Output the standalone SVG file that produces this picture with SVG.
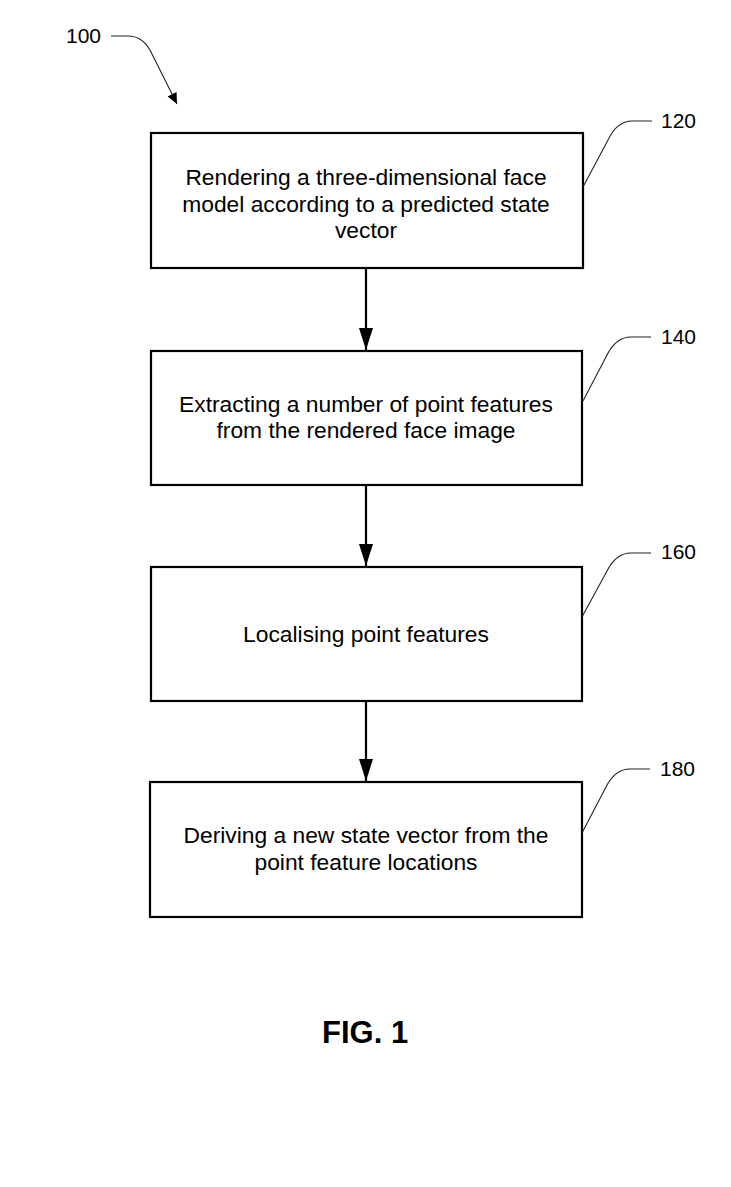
<svg xmlns="http://www.w3.org/2000/svg" width="731" height="1187" viewBox="0 0 731 1187">
<style>
.box{fill:#fff;stroke:#000;stroke-width:2.2}
.t{font-family:"Liberation Sans",Arial,sans-serif;font-size:22.8px;fill:#000;text-anchor:middle}
.lbl{font-family:"Liberation Sans",Arial,sans-serif;font-size:21px;fill:#000}
.lead{fill:none;stroke:#222;stroke-width:1.1}
.conn{stroke:#000;stroke-width:2.2;fill:none}
.fig{font-family:"Liberation Sans",Arial,sans-serif;font-size:31px;font-weight:bold;fill:#000}
</style>
<defs>
<marker id="ah" markerUnits="userSpaceOnUse" markerWidth="22" markerHeight="14" refX="22" refY="7" orient="auto" viewBox="0 0 22 14"><path d="M0,0 L22,7 L0,14 Z" fill="#000"/></marker>
<marker id="sm" markerUnits="userSpaceOnUse" markerWidth="12" markerHeight="12" refX="11" refY="5" orient="auto" viewBox="0 0 12 10"><path d="M0,0 L11,5 L0,10 Z" fill="#000"/></marker>
</defs>
<rect width="731" height="1187" fill="#fff"/>
<g id="ref100">
<text class="lbl" x="66" y="43">100</text>
<path class="lead" d="M111,36 L128,36 C140,36 147,43 152,54 L177,104" marker-end="url(#sm)"/>
</g>
<g id="node120">
<rect class="box" x="151" y="133" width="432" height="135"/>
<text class="t" x="366" y="185">Rendering a three-dimensional face</text>
<text class="t" x="366" y="211.5">model according to a predicted state</text>
<text class="t" x="366" y="238">vector</text>
<path class="lead" d="M583,187 L608,140 Q617,121 632,121 L652,121"/>
<text class="lbl" x="661" y="127.5">120</text>
</g>
<g id="node140">
<rect class="box" x="151" y="351" width="431" height="134"/>
<text class="t" x="366" y="411.7">Extracting a number of point features</text>
<text class="t" x="366" y="438.3">from the rendered face image</text>
<path class="lead" d="M583,401 L607,355 Q616,337 631,337 L651,337"/>
<text class="lbl" x="661" y="344">140</text>
</g>
<g id="node160">
<rect class="box" x="151" y="567" width="431" height="134"/>
<text class="t" x="366" y="642.3">Localising point features</text>
<path class="lead" d="M582,617 L607,571 Q616,553 631,553 L651,553"/>
<text class="lbl" x="661" y="558.5">160</text>
</g>
<g id="node180">
<rect class="box" x="150" y="782" width="432" height="135"/>
<text class="t" x="366" y="843.3">Deriving a new state vector from the</text>
<text class="t" x="366" y="870">point feature locations</text>
<path class="lead" d="M582,833 L606,787 Q615,769 630,769 L650,769"/>
<text class="lbl" x="660" y="775.7">180</text>
</g>
<g id="connectors">
<line class="conn" x1="366" y1="268" x2="366" y2="350" marker-end="url(#ah)"/>
<line class="conn" x1="366" y1="485" x2="366" y2="566" marker-end="url(#ah)"/>
<line class="conn" x1="366" y1="701" x2="366" y2="781" marker-end="url(#ah)"/>
</g>
<text class="fig" x="322" y="1043">FIG. 1</text>
</svg>
